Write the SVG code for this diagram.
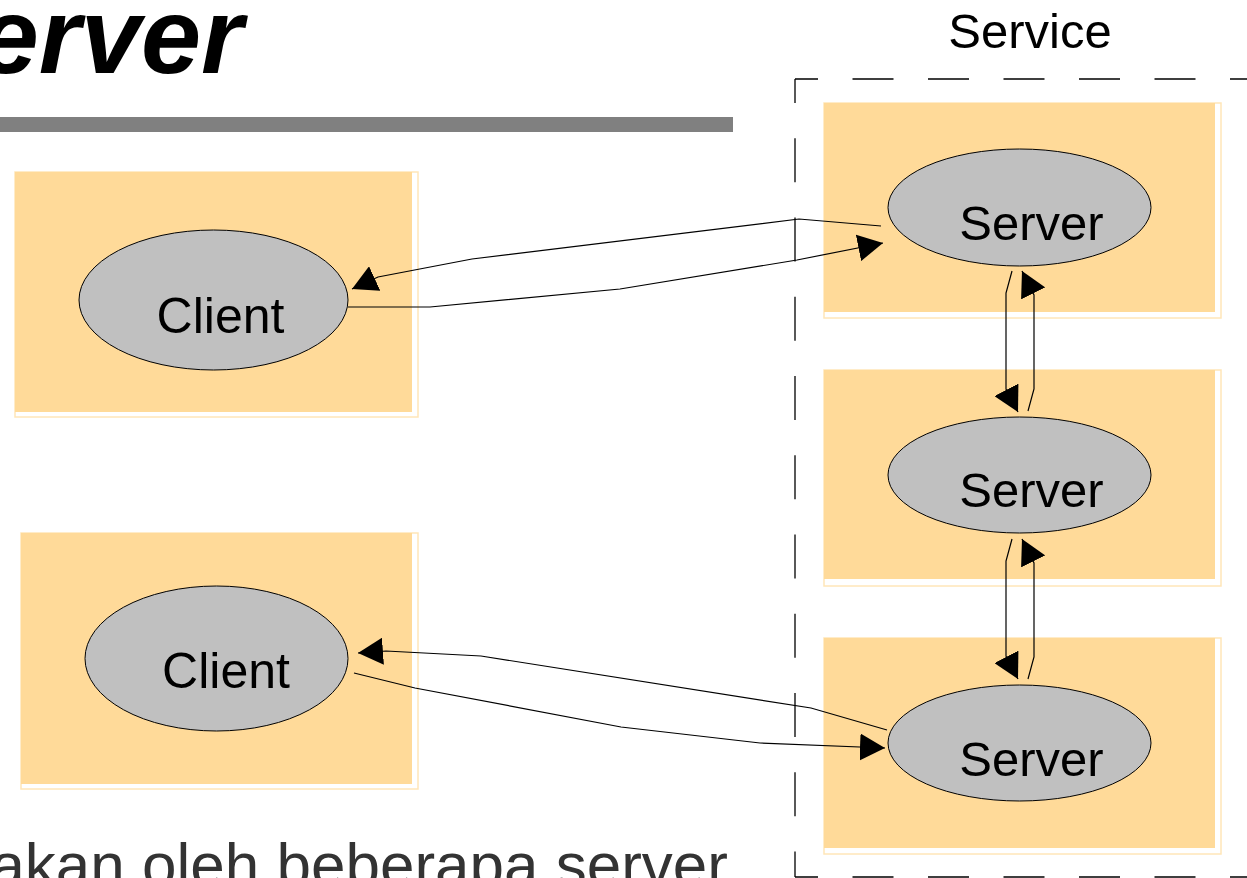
<svg xmlns="http://www.w3.org/2000/svg" width="1247" height="878" viewBox="0 0 1247 878">
<style>
.lbl{font-family:"Liberation Sans",Arial,sans-serif;font-size:49px;fill:#000;text-anchor:middle}
.box{fill:#FFDA99}
.boxo{fill:none;stroke:#FFE6B8;stroke-width:1.5}
.ell{fill:#C0C0C0;stroke:#000;stroke-width:1}
.con{fill:none;stroke:#000;stroke-width:1.2}
.dh{fill:none;stroke:#000;stroke-width:1.3;stroke-dasharray:41 34.5;stroke-dashoffset:18}
.dv{fill:none;stroke:#000;stroke-width:1.3;stroke-dasharray:44 35.25;stroke-dashoffset:20}
</style>
<defs>
<marker id="ah" markerUnits="userSpaceOnUse" markerWidth="25" markerHeight="27" viewBox="0 0 25 27" refX="25" refY="13.5" orient="auto">
<path d="M0,0 L25,13.5 L0,27 z" fill="#000"/>
</marker>
</defs>
<rect width="1247" height="878" fill="#fff"/>
<g id="title">
<text x="243" y="73" font-family="'Liberation Sans',Arial,sans-serif" font-size="108" font-weight="bold" font-style="italic" text-anchor="end" fill="#000">Server</text>
<rect x="0" y="117" width="733" height="15" fill="#808080"/>
</g>
<g id="service">
<path class="dh" d="M795,79 H1250"/>
<path class="dv" d="M795,79 V877"/>
<path class="dh" d="M795,877 H1250"/>
<text x="1030" y="48" font-family="'Liberation Sans',Arial,sans-serif" font-size="49" text-anchor="middle" fill="#000">Service</text>
</g>
<g id="client1">
<rect class="boxo" x="15" y="172" width="403" height="245"/>
<rect class="box" x="15" y="172" width="397" height="240"/>
<ellipse class="ell" cx="213.5" cy="300" rx="134.5" ry="70"/>
<text class="lbl" x="220.5" y="333" style="font-size:50px">Client</text>
</g>
<g id="client2">
<rect class="boxo" x="21" y="533" width="397" height="256"/>
<rect class="box" x="21" y="533" width="391" height="251"/>
<ellipse class="ell" cx="216.5" cy="658.5" rx="131.5" ry="72.5"/>
<text class="lbl" x="226" y="688" style="font-size:50px">Client</text>
</g>
<g id="server1">
<rect class="boxo" x="824" y="103" width="397" height="215"/>
<rect class="box" x="824" y="103" width="391" height="209"/>
<ellipse class="ell" cx="1019.5" cy="207.5" rx="131.5" ry="58.5"/>
<text class="lbl" x="1031.5" y="240">Server</text>
</g>
<g id="server2">
<rect class="boxo" x="824" y="370" width="397" height="216"/>
<rect class="box" x="824" y="370" width="391" height="209"/>
<ellipse class="ell" cx="1019.5" cy="475" rx="131.5" ry="58"/>
<text class="lbl" x="1031.5" y="507">Server</text>
</g>
<g id="server3">
<rect class="boxo" x="824" y="638" width="397" height="216"/>
<rect class="box" x="824" y="638" width="391" height="210"/>
<ellipse class="ell" cx="1019.5" cy="743" rx="131.5" ry="58"/>
<text class="lbl" x="1031.5" y="776">Server</text>
</g>
<g id="connectors">
<path class="con" marker-end="url(#ah)" d="M881,226 L799,219 L472,259 L378,277 L352,289"/>
<path class="con" marker-end="url(#ah)" d="M348,307 L430,307 L620,289 L797,260 L883,243"/>
<path class="con" marker-end="url(#ah)" d="M887,730 L811,708 L481,656 L386,651 L358,653"/>
<path class="con" marker-end="url(#ah)" d="M354,673 L415,688 L621,727 L760,743 L885,748"/>
<path class="con" marker-end="url(#ah)" d="M1012,271 L1006,293 L1006,389 L1018,412"/>
<path class="con" marker-end="url(#ah)" d="M1028,411 L1034,389 L1034,295 L1022,271"/>
<path class="con" marker-end="url(#ah)" d="M1012,539 L1006,561 L1006,656 L1018,679"/>
<path class="con" marker-end="url(#ah)" d="M1028,679 L1034,657 L1034,563 L1022,539"/>
</g>
<g id="caption">
<text x="728" y="886" font-family="'Liberation Sans',Arial,sans-serif" font-size="62" text-anchor="end" fill="#333">akan oleh beberapa server</text>
</g>
</svg>
